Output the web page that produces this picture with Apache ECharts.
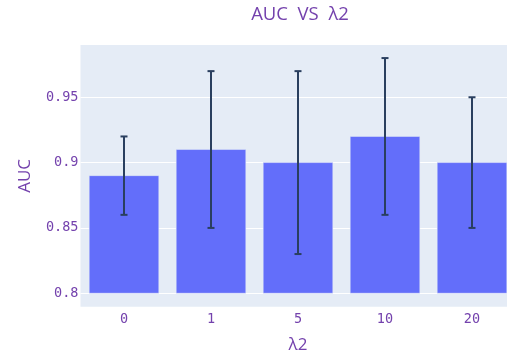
<!DOCTYPE html>
<html>
<head>
<meta charset="utf-8">
<script src="https://cdn.jsdelivr.net/npm/echarts@6/dist/echarts.min.js"></script>
<style>
  html, body { margin: 0; padding: 0; background: #fff; overflow: hidden; }
  #chart { width: 507px; height: 356px; }
</style>
</head>
<body>
<div id="chart"></div>
<script>
// λ2 settings and the mean AUC with its spread for each
const categories = ['0', '1', '5', '10', '20'];
const aucMean = [0.89, 0.91, 0.90, 0.92, 0.90];
const aucLow = [0.86, 0.85, 0.83, 0.86, 0.85];
const aucHigh = [0.92, 0.97, 0.97, 0.98, 0.95];
const yTicks = [0.8, 0.85, 0.9, 0.95];
const barBase = 0.8;

const purple = '#7442ad';
const monoFont = '"DejaVu Sans Mono", "Liberation Mono", monospace';
const sansFont = '"Open Sans", "Liberation Sans", Arial, sans-serif';

const chart = echarts.init(document.getElementById('chart'), null, { renderer: 'canvas' });

const barData = categories.map((c, i) => [i, aucMean[i]]);
const errData = categories.map((c, i) => [i, aucLow[i], aucHigh[i]]);

chart.setOption({
  backgroundColor: '#ffffff',
  animation: false,
  title: {
    text: 'AUC  VS  λ2',
    left: 295,
    textAlign: 'center',
    top: 0,
    textStyle: { color: purple, fontFamily: sansFont, fontSize: 18.5, fontWeight: 'normal' }
  },
  grid: {
    left: 80.5, width: 435, top: 45, height: 261.7,
    outerBoundsMode: 'none',
    containLabel: false,
    show: true, backgroundColor: '#e5ecf6', borderWidth: 0
  },
  xAxis: {
    type: 'category',
    data: categories,
    boundaryGap: true,
    name: 'λ2',
    nameLocation: 'middle',
    nameGap: 30,
    nameTextStyle: { color: purple, fontFamily: sansFont, fontSize: 17 },
    axisLine: { show: false },
    axisTick: { show: false },
    axisLabel: { color: purple, fontFamily: monoFont, fontSize: 13.5, margin: 6 },
    splitLine: { show: false }
  },
  yAxis: {
    type: 'value',
    min: 0.7897,
    max: 0.990,
    name: 'AUC',
    nameLocation: 'middle',
    nameGap: 47,
    nameTextStyle: { color: purple, fontFamily: sansFont, fontSize: 17 },
    axisLine: { show: false },
    axisTick: { show: false, customValues: yTicks },
    axisLabel: {
      color: purple, fontFamily: monoFont, fontSize: 13.5, margin: 2,
      customValues: yTicks,
      formatter: v => String(parseFloat(v.toFixed(2)))
    },
    splitLine: { show: true, lineStyle: { color: '#ffffff', width: 1 } }
  },
  series: [
    {
      // bars rising from the 0.8 baseline
      type: 'custom',
      data: barData,
      encode: { x: 0, y: 1 },
      renderItem: function (params, api) {
        const i = api.value(0);
        const top = api.coord([i, api.value(1)]);
        const bottom = api.coord([i, barBase]);
        const w = api.size([1, 0])[0] * 0.8;
        return {
          type: 'rect',
          shape: { x: top[0] - w / 2, y: top[1], width: w, height: bottom[1] - top[1] },
          style: { fill: '#636efa', stroke: '#e5ecf6', lineWidth: 0.5 }
        };
      },
      z: 2
    },
    {
      // error bars with caps
      type: 'custom',
      data: errData,
      encode: { x: 0, y: [1, 2] },
      renderItem: function (params, api) {
        const i = api.value(0);
        const lo = api.coord([i, api.value(1)]);
        const hi = api.coord([i, api.value(2)]);
        const half = 3.5;
        const st = { stroke: '#2a3f5f', lineWidth: 2 };
        return {
          type: 'group',
          children: [
            { type: 'line', shape: { x1: lo[0], y1: lo[1], x2: hi[0], y2: hi[1] }, style: st },
            { type: 'line', shape: { x1: lo[0] - half, y1: lo[1], x2: lo[0] + half, y2: lo[1] }, style: st },
            { type: 'line', shape: { x1: hi[0] - half, y1: hi[1], x2: hi[0] + half, y2: hi[1] }, style: st }
          ]
        };
      },
      z: 3
    }
  ]
});
</script>
</body>
</html>
